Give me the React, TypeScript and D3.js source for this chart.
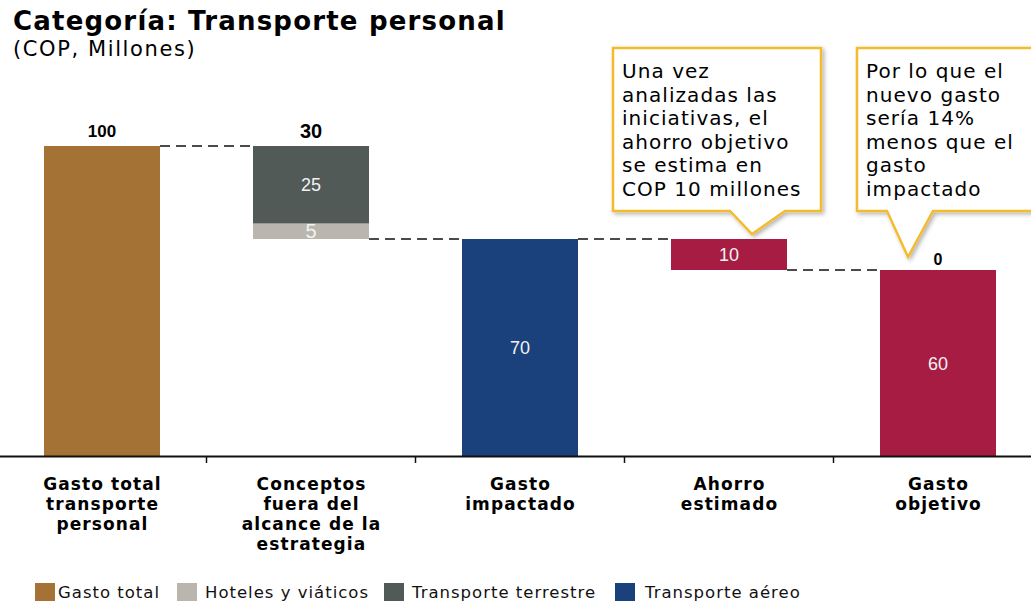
import React from "react";
import * as d3 from "d3";

const categories = ["total", "fuera", "impactado", "ahorro", "objetivo"];
const categoryLines = [
  ["Gasto total", "transporte", "personal"],
  ["Conceptos", "fuera del", "alcance de la", "estrategia"],
  ["Gasto", "impactado"],
  ["Ahorro", "estimado"],
  ["Gasto", "objetivo"],
];
// invisible base of each waterfall step
const baseValues = [0, 70, 0, 60, 0];
const gastoTotal = [100, 0, 0, 0, 0];
const hoteles = [0, 5, 0, 0, 0];
const terrestre = [0, 25, 0, 0, 0];
const aereo = [0, 0, 70, 0, 0];
const ahorro = [0, 0, 0, 10, 60];
const topLabels = ["100", "30", "", "", "0"];
const showInner = [false, true, true, true, true];

const seriesNames = ["Gasto total", "Hoteles y viáticos", "Transporte terrestre", "Transporte aéreo", "Ahorro"];
const seriesValues = [gastoTotal, hoteles, terrestre, aereo, ahorro];
const seriesColors = ["#A57236", "#BAB6AE", "#525A58", "#1B417C", "#A61C43"];
const legendItems = [0, 1, 2, 3];
const legendX = [35, 177, 384, 615];

const callout1 = ["Una vez", "analizadas las", "iniciativas, el", "ahorro objetivo", "se estima en", "COP 10 millones"];
const callout2 = ["Por lo que el", "nuevo gasto", "sería 14%", "menos que el", "gasto", "impactado"];

const W = 1031;
const H = 604;

export default function App() {
  const x = d3.scaleBand<string>().domain(categories).range([-2.5, 1042.5]).paddingInner(0.445).paddingOuter(0.2225);
  const y = d3.scaleLinear().domain([0, 100]).range([456, 146]);
  const bw = x.bandwidth();

  const segs: { i: number; s: number; y0: number; y1: number }[] = [];
  categories.forEach((c, i) => {
    let acc = baseValues[i];
    seriesValues.forEach((vals, s) => {
      const v = vals[i];
      if (v > 0) {
        segs.push({ i, s, y0: acc, y1: acc + v });
        acc += v;
      }
    });
  });
  const totals = categories.map((c, i) => baseValues[i] + seriesValues.reduce((a, v) => a + v[i], 0));

  const connectors = [
    { from: 0, to: 1, v: totals[0] },
    { from: 1, to: 2, v: baseValues[1] },
    { from: 2, to: 3, v: totals[2] },
    { from: 3, to: 4, v: baseValues[3] },
  ];

  const xc = (i: number) => (x(categories[i]) as number) + bw / 2;
  const font = "'DejaVu Sans', Verdana, sans-serif";
  const arial = "'Liberation Sans', Arial, sans-serif";

  const calloutPath = (l: number, r: number, t: number, b: number, p0: number, p1: number, tx: number, ty: number) =>
    `M${l},${t}H${r}V${b}H${p1}L${tx},${ty}L${p0},${b}H${l}Z`;

  const topY = [137, 138, 0, 0, 265];
  const topSize = [17, 20, 0, 0, 16];

  return (
    <svg width={W} height={H} style={{ position: "absolute", left: 0, top: 0, background: "#fff" }}>
      <defs>
        <filter id="sh" x="-10%" y="-10%" width="130%" height="130%">
          <feDropShadow dx="2" dy="2" stdDeviation="2" floodColor="#000" floodOpacity="0.3" />
        </filter>
      </defs>
      <text x={13} y={30} fontFamily={font} fontWeight="bold" fontSize={26} letterSpacing={1.2} fill="#000">
        Categoría: Transporte personal
      </text>
      <text x={13} y={56} fontFamily={font} fontSize={21} letterSpacing={1.6} fill="#000">
        (COP, Millones)
      </text>

      {segs.map((d, k) => (
        <rect key={k} x={x(categories[d.i])} y={y(d.y1)} width={bw} height={y(d.y0) - y(d.y1)} fill={seriesColors[d.s]} />
      ))}

      {connectors.map((c, k) => (
        <line
          key={k}
          x1={(x(categories[c.from]) as number) + bw}
          x2={x(categories[c.to]) as number}
          y1={y(c.v)}
          y2={y(c.v)}
          stroke="#111"
          strokeWidth={1.4}
          strokeDasharray="10,6"
        />
      ))}

      {segs.map((d, k) =>
        showInner[d.i] ? (
          <text
            key={"l" + k}
            x={xc(d.i)}
            y={(y(d.y0) + y(d.y1)) / 2 + 6.5}
            textAnchor="middle"
            fontFamily={arial}
            fontSize={d.y1 - d.y0 < 8 ? 20 : 18}
            fill="#f2f2f2"
          >
            {d.y1 - d.y0}
          </text>
        ) : null
      )}

      {topLabels.map((t, i) =>
        t ? (
          <text
            key={"t" + i}
            x={xc(i)}
            y={topY[i]}
            textAnchor="middle"
            fontFamily={arial}
            fontWeight="bold"
            fontSize={topSize[i]}
            fill="#000"
          >
            {t}
          </text>
        ) : null
      )}

      <line x1={0} x2={W} y1={456.5} y2={456.5} stroke="#111" strokeWidth={2} />
      {categories.slice(1).map((c, i) => {
        const tx = (x(c) as number) - (x.step() - bw) / 2;
        return <line key={"tk" + i} x1={tx} x2={tx} y1={456} y2={463} stroke="#111" strokeWidth={1.5} />;
      })}
      {categoryLines.map((lines, i) => (
        <text key={"c" + i} textAnchor="middle" fontFamily={font} fontWeight="bold" fontSize={17} letterSpacing={1.1} fill="#000">
          {lines.map((ln, j) => (
            <tspan key={j} x={xc(i) + 0.5} y={490 + j * 20}>
              {ln}
            </tspan>
          ))}
        </text>
      ))}

      <path d={calloutPath(613, 821, 48, 211, 730, 785, 752, 234)} fill="#fff" stroke="#F4BB2E" strokeWidth={2.5} filter="url(#sh)" />
      <text fontFamily={font} fontSize={20} letterSpacing={1.05} fill="#000">
        {callout1.map((ln, j) => (
          <tspan key={j} x={622} y={78 + j * 23.5}>
            {ln}
          </tspan>
        ))}
      </text>
      <path d={calloutPath(857, 1045, 48, 211, 887, 933, 908, 257)} fill="#fff" stroke="#F4BB2E" strokeWidth={2.5} filter="url(#sh)" />
      <text fontFamily={font} fontSize={20} letterSpacing={1.05} fill="#000">
        {callout2.map((ln, j) => (
          <tspan key={j} x={866} y={78 + j * 23.5}>
            {ln}
          </tspan>
        ))}
      </text>

      {legendItems.map((s, k) => (
        <g key={"lg" + k}>
          <rect x={legendX[k]} y={583} width={20} height={18} fill={seriesColors[s]} />
          <text x={legendX[k] + (k === 0 ? 23 : k === 3 ? 30 : 28)} y={598} fontFamily={font} fontSize={16.5} letterSpacing={1} fill="#111">
            {seriesNames[s]}
          </text>
        </g>
      ))}
    </svg>
  );
}
